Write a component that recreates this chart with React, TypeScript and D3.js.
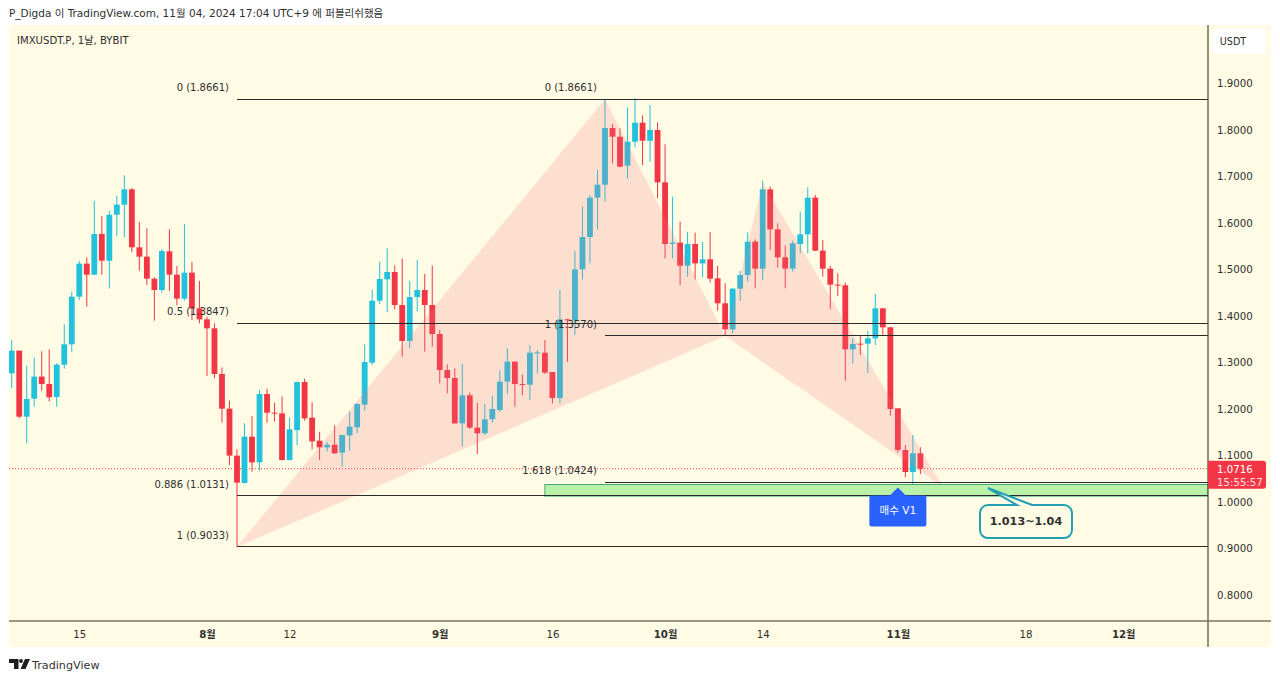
import { useEffect, useRef } from "react";
import * as d3 from "d3";

// daily candles, 2024-07-06 .. 2024-11-04
const firstDay = "2024-07-06";
const opens = [
  1.2767, 1.3255, 1.1835, 1.2222, 1.2696, 1.2538, 1.2258, 1.2954, 1.3391, 1.4416,
  1.5126, 1.4889, 1.5764, 1.519, 1.6179, 1.6394, 1.6724, 1.5477, 1.5276, 1.4803,
  1.4559, 1.5391, 1.4889, 1.4373, 1.4932, 1.4165, 1.3928, 1.3735, 1.2753, 1.2007,
  1.0997, 1.0408, 1.1405, 1.0853, 1.2322, 1.1921, 1.1906, 1.0903, 1.1548, 1.258,
  1.1813, 1.1318, 1.1175, 1.1233, 1.1061, 1.1433, 1.1606, 1.2093, 1.2996, 1.4329,
  1.4788, 1.4946, 1.4236, 1.3462, 1.4408, 1.4559, 1.4236, 1.3613, 1.2838, 1.2666,
  1.1691, 1.2294, 1.1599, 1.1477, 1.1778, 1.1978, 1.2588, 1.3018, 1.2537, 1.2523,
  1.3211, 1.3211, 1.2795, 1.2236, 1.3928, 1.3899, 1.5003, 1.5699, 1.6545, 1.6824,
  1.8043, 1.7856, 1.7233, 1.7749, 1.8157, 1.777, 1.8, 1.6874, 1.5548, 1.5577,
  1.5082, 1.5548, 1.5132, 1.5219, 1.481, 1.4273, 1.3713, 1.4588, 1.4882, 1.5599,
  1.5018, 1.6724, 1.5864, 1.5262, 1.5018, 1.5548, 1.5756, 1.6545, 1.5405, 1.5018,
  1.4674, 1.466, 1.3283, 1.3405, 1.3405, 1.352, 1.4165, 1.3756, 1.2014, 1.1118,
  1.0645, 1.1047,
];
const highs = [
  1.3484, 1.326, 1.2932, 1.3111, 1.324, 1.3283, 1.2983, 1.3821, 1.4523, 1.5183,
  1.5255, 1.648, 1.6151, 1.6265, 1.6588, 1.7025, 1.6753, 1.6022, 1.5885, 1.4832,
  1.5434, 1.5864, 1.5075, 1.5979, 1.5161, 1.4753, 1.3986, 1.3842, 1.2896, 1.2179,
  1.1133, 1.1691, 1.1849, 1.2408, 1.2437, 1.2136, 1.2265, 1.182, 1.2587, 1.2652,
  1.2143, 1.1512, 1.1297, 1.1648, 1.1448, 1.1942, 1.2122, 1.339, 1.4559, 1.5168,
  1.5456, 1.5089, 1.524, 1.476, 1.5204, 1.4903, 1.5082, 1.3699, 1.296, 1.2874,
  1.2967, 1.2351, 1.2136, 1.2108, 1.228, 1.2838, 1.3304, 1.3025, 1.2745, 1.3376,
  1.3269, 1.3484, 1.2795, 1.4559, 1.3942, 1.5398, 1.6351, 1.6602, 1.714, 1.8661,
  1.8129, 1.8036, 1.8487, 1.8681, 1.8315, 1.8537, 1.8165, 1.7692, 1.6566, 1.6028,
  1.5813, 1.5792, 1.5599, 1.5807, 1.5075, 1.4703, 1.4595, 1.4968, 1.5799, 1.5649,
  1.6911, 1.6782, 1.5993, 1.552, 1.562, 1.6244, 1.6767, 1.6602, 1.5635, 1.5075,
  1.4918, 1.4717, 1.352, 1.357, 1.3678, 1.4473, 1.4172, 1.377, 1.2014, 1.1226,
  1.1441, 1.1176,
];
const lows = [
  1.2452, 1.1799, 1.1262, 1.205, 1.2394, 1.2165, 1.205, 1.2868, 1.3233, 1.4344,
  1.4201, 1.488, 1.4889, 1.4595, 1.5721, 1.5692, 1.5369, 1.4975, 1.4667, 1.39,
  1.4502, 1.4538, 1.423, 1.433, 1.3914, 1.3842, 1.271, 1.266, 1.1706, 1.0796,
  0.9033, 1.04, 1.0652, 1.0673, 1.1706, 1.1727, 1.0895, 1.0895, 1.1225, 1.1749,
  1.1132, 1.0903, 1.1082, 1.1032, 1.076, 1.1104, 1.1476, 1.1964, 1.2946, 1.4258,
  1.4086, 1.4143, 1.3125, 1.3304, 1.4093, 1.3233, 1.334, 1.2552, 1.2337, 1.1684,
  1.119, 1.157, 1.1032, 1.1441, 1.1706, 1.1942, 1.2322, 1.205, 1.2301, 1.2193,
  1.2767, 1.2753, 1.2122, 1.2122, 1.3018, 1.3591, 1.4788, 1.5132, 1.5864, 1.6459,
  1.7283, 1.7197, 1.696, 1.7627, 1.7247, 1.7319, 1.653, 1.524, 1.524, 1.4666,
  1.4846, 1.4788, 1.4832, 1.4717, 1.4115, 1.3592, 1.3627, 1.4323, 1.4739, 1.4595,
  1.4774, 1.542, 1.504, 1.4595, 1.4954, 1.5348, 1.5348, 1.5398, 1.4846, 1.4144,
  1.443, 1.261, 1.2982, 1.3162, 1.2767, 1.3377, 1.3592, 1.1857, 1.1061, 1.0531,
  1.034, 1.0602,
];
const closes = [
  1.3255, 1.1835, 1.2215, 1.2696, 1.2538, 1.2251, 1.2954, 1.3391, 1.4416, 1.5126,
  1.4889, 1.5764, 1.519, 1.6179, 1.6394, 1.6724, 1.5477, 1.5276, 1.4803, 1.4559,
  1.5398, 1.4889, 1.4373, 1.4932, 1.4165, 1.3928, 1.3735, 1.2753, 1.2007, 1.0997,
  1.0416, 1.1405, 1.0853, 1.2322, 1.1921, 1.1905, 1.0903, 1.1562, 1.258, 1.1799,
  1.1304, 1.1175, 1.1233, 1.1046, 1.1441, 1.162, 1.2107, 1.301, 1.4329, 1.4795,
  1.4946, 1.4236, 1.3462, 1.4408, 1.4559, 1.4236, 1.3613, 1.2838, 1.2666, 1.1691,
  1.2294, 1.1599, 1.1477, 1.1778, 1.2, 1.2588, 1.3018, 1.2537, 1.253, 1.3211,
  1.3218, 1.2781, 1.2236, 1.3928, 1.3921, 1.5003, 1.5699, 1.6545, 1.6824, 1.8043,
  1.7856, 1.7211, 1.7749, 1.8157, 1.777, 1.8, 1.6874, 1.5548, 1.5577, 1.5082,
  1.5548, 1.5132, 1.5219, 1.4803, 1.4273, 1.3713, 1.4588, 1.4882, 1.5599, 1.5018,
  1.6724, 1.5864, 1.5262, 1.5018, 1.5563, 1.5756, 1.6545, 1.5405, 1.5018, 1.4674,
  1.4659, 1.3283, 1.3398, 1.3398, 1.352, 1.4165, 1.3756, 1.2, 1.1118, 1.0645,
  1.1047, 1.0716,
];

const priceTicks = [1.9, 1.8, 1.7, 1.6, 1.5, 1.4, 1.3, 1.2, 1.1, 1.0, 0.9, 0.8];
const timeTicks = ["2024-07-15", "2024-08-01", "2024-08-12", "2024-09-01", "2024-09-16", "2024-10-01", "2024-10-14", "2024-11-01", "2024-11-18", "2024-12-01"];
const timeLabels = ["15", "8월", "12", "9월", "16", "10월", "14", "11월", "18", "12월"];

// bat pattern turning points [date, price]
const patternXAB: [string, number][] = [["2024-08-05", 0.9033], ["2024-09-23", 1.8661], ["2024-10-09", 1.357]];
const patternBCD: [string, number][] = [["2024-10-09", 1.357], ["2024-10-14", 1.686], ["2024-11-07", 1.0323]];

// fib retracement levels
const fibOuterStart = "2024-08-05";
const fibOuterRatios = ["0", "0.5", "0.886", "1"];
const fibOuterPrices = [1.8661, 1.3847, 1.0131, 0.9033];
const fibInnerStart = "2024-09-23";
const fibInnerRatios = ["0", "1", "1.618"];
const fibInnerPrices = [1.8661, 1.357, 1.0424];

const lastPrice = 1.0716;
const countdown = "15:55:57";
const zoneStart = "2024-09-15";
const zonePrices = [1.04, 1.013];
const buyDate = "2024-11-01";
const noteDate = "2024-11-13";

const panelBg = "#fffbe4";
const upColor = "#22c1dc";
const downColor = "#f23645";
const textColor = "#2f2f2f";
const fontName = "'DejaVu Sans', 'Noto Sans CJK KR', sans-serif";
const day = (s: string) => new Date(s + "T00:00:00Z");

export default function App() {
  const svgRef = useRef<SVGSVGElement>(null);

  useEffect(() => {
    const svg = d3.select(svgRef.current);
    svg.selectAll("*").remove();

    const plotRight = 1208;
    const plotBottom = 621;
    const first = day(firstDay);
    const x = d3
      .scaleUtc()
      .domain([first, d3.utcDay.offset(first, 121)])
      .range([11.7, 920.4]);
    const y = d3.scaleLinear().domain([1.9, 0.8]).range([83.5, 595]);

    svg.attr("font-family", fontName);

    // panel
    svg.append("rect").attr("x", 9).attr("y", 25).attr("width", 1262).attr("height", 622).attr("fill", panelBg);

    svg.append("clipPath").attr("id", "plot").append("rect").attr("x", 9).attr("y", 25).attr("width", plotRight - 9).attr("height", plotBottom - 25);
    const plot = svg.append("g").attr("clip-path", "url(#plot)");

    // last price dotted line
    plot
      .append("line")
      .attr("x1", 9)
      .attr("x2", plotRight)
      .attr("y1", y(lastPrice))
      .attr("y2", y(lastPrice))
      .attr("stroke", "#f23645")
      .attr("stroke-width", 1)
      .attr("stroke-dasharray", "1 2");

    // candles
    const bodyWidth = 5.8;
    const candles = d3.range(opens.length);
    const dateOf = (i: number) => d3.utcDay.offset(first, i);
    const colorOf = (i: number) => (closes[i] >= opens[i] ? upColor : downColor);
    plot
      .selectAll(".wick")
      .data(candles)
      .enter()
      .append("line")
      .attr("x1", (i) => x(dateOf(i)))
      .attr("x2", (i) => x(dateOf(i)))
      .attr("y1", (i) => y(highs[i]))
      .attr("y2", (i) => y(lows[i]))
      .attr("stroke", colorOf)
      .attr("stroke-width", 1);
    plot
      .selectAll(".body")
      .data(candles)
      .enter()
      .append("rect")
      .attr("x", (i) => x(dateOf(i)) - bodyWidth / 2)
      .attr("width", bodyWidth)
      .attr("y", (i) => y(Math.max(opens[i], closes[i])))
      .attr("height", (i) => Math.max(1, Math.abs(y(opens[i]) - y(closes[i]))))
      .attr("fill", colorOf);

    // harmonic pattern
    const patternLine = d3
      .line<[string, number]>()
      .x((d) => x(day(d[0])))
      .y((d) => y(d[1]));
    [patternXAB, patternBCD].forEach((pts) => {
      plot
        .append("path")
        .attr("d", patternLine(pts) + "Z")
        .attr("fill", "#f57384")
        .attr("fill-opacity", 0.2);
    });

    // demand zone sits under the fib lines
    plot
      .append("rect")
      .attr("x", x(day(zoneStart)))
      .attr("width", plotRight - x(day(zoneStart)))
      .attr("y", Math.ceil(y(zonePrices[0])) + 0.5)
      .attr("height", y(zonePrices[1]) - y(zonePrices[0]) - 1)
      .attr("fill", "#b9f1a9")
      .attr("stroke", "#3fa876")
      .attr("stroke-width", 1);

    // fib levels
    const fibs = [
      { start: fibOuterStart, ratios: fibOuterRatios, prices: fibOuterPrices },
      { start: fibInnerStart, ratios: fibInnerRatios, prices: fibInnerPrices },
    ];
    fibs.forEach((f) => {
      const startX = x(day(f.start));
      f.prices.forEach((p, i) => {
        plot
          .append("line")
          .attr("x1", startX)
          .attr("x2", plotRight)
          .attr("y1", Math.floor(y(p)) + 0.5)
          .attr("y2", Math.floor(y(p)) + 0.5)
          .attr("stroke", "#2a2a2a")
          .attr("stroke-width", 1);
        plot
          .append("text")
          .attr("x", startX - 8)
          .attr("y", y(p) - 8)
          .attr("text-anchor", "end")
          .attr("font-size", 10)
          .attr("fill", textColor)
          .text(`${f.ratios[i]} (${p.toFixed(4)})`);
      });
    });

    // buy marker
    const buyX = x(day(buyDate));
    const buyTop = y(zonePrices[0]) + 4;
    plot
      .append("path")
      .attr("d", `M${buyX},${buyTop} l8,8 h18.5 a2,2 0 0 1 2,2 v27 a2,2 0 0 1 -2,2 h-53 a2,2 0 0 1 -2,-2 v-27 a2,2 0 0 1 2,-2 h18.5 Z`)
      .attr("fill", "#2962ff");
    plot
      .append("text")
      .attr("x", buyX)
      .attr("y", buyTop + 27)
      .attr("text-anchor", "middle")
      .attr("font-size", 10.5)
      .attr("fill", "#fff")
      .text("매수 V1");

    // callout
    const tipX = x(day(noteDate));
    const tipY = y(1.03);
    plot
      .append("path")
      .attr(
        "d",
        `M${tipX},${tipY} L${tipX + 44},${tipY + 17} H${tipX + 76} a8,8 0 0 1 8,8 V${tipY + 42} a8,8 0 0 1 -8,8 H${tipX} a8,8 0 0 1 -8,-8 V${tipY + 25} a8,8 0 0 1 8,-8 H${tipX + 29} Z`
      )
      .attr("fill", panelBg)
      .attr("stroke", "#22a0b2")
      .attr("stroke-width", 2);
    plot
      .append("text")
      .attr("x", tipX + 38)
      .attr("y", tipY + 37)
      .attr("text-anchor", "middle")
      .attr("font-size", 11.2)
      .attr("font-weight", 600)
      .attr("fill", textColor)
      .text("1.013~1.04");

    // price axis
    const yAxis = svg
      .append("g")
      .attr("transform", `translate(${plotRight},0)`)
      .call(
        d3
          .axisRight(y)
          .tickValues(priceTicks)
          .tickSize(0)
          .tickPadding(9)
          .tickFormat((d) => (d as number).toFixed(4))
      );
    yAxis.select(".domain").attr("d", "M0,25V647").attr("stroke", "#4a4a3a").attr("stroke-width", 1.2);
    yAxis.selectAll("text").attr("font-family", fontName).attr("font-size", 10.2).attr("fill", textColor);

    // time axis
    const xAxis = svg
      .append("g")
      .attr("transform", `translate(0,${plotBottom})`)
      .call(
        d3
          .axisBottom(x)
          .tickValues(timeTicks.map(day))
          .tickSize(0)
          .tickPadding(10)
          .tickFormat((_, i) => timeLabels[i])
      );
    xAxis.select(".domain").attr("d", `M9,0H1271`).attr("stroke", "#77775f").attr("stroke-width", 1.4);
    xAxis
      .selectAll("text")
      .attr("font-family", fontName)
      .attr("font-size", 10.2)
      .attr("fill", textColor)
      .attr("font-weight", (_, i) => (timeLabels[i].endsWith("월") ? 700 : 400));

    // last price tag
    const tagTop = y(lastPrice) - 8;
    svg
      .append("path")
      .attr("d", `M${plotRight},${tagTop} h55 a3,3 0 0 1 3,3 v22 a3,3 0 0 1 -3,3 h-55 Z`)
      .attr("fill", downColor);
    svg.append("text").attr("x", plotRight + 9).attr("y", tagTop + 12).attr("font-size", 10.2).attr("fill", "#fff").text(lastPrice.toFixed(4));
    svg.append("text").attr("x", plotRight + 9).attr("y", tagTop + 25).attr("font-size", 10.2).attr("fill", "#ffe0e3").text(countdown);

    // currency button
    svg.append("rect").attr("x", 1212).attr("y", 29).attr("width", 54).attr("height", 24).attr("rx", 4).attr("fill", "#fff");
    svg.append("text").attr("x", 1233).attr("y", 45).attr("text-anchor", "middle").attr("font-size", 9.6).attr("fill", textColor).text("USDT");

    // titles
    svg.append("text").attr("x", 9).attr("y", 17).attr("font-size", 10.5).attr("fill", textColor).text("P_Digda 이 TradingView.com, 11월 04, 2024 17:04 UTC+9 에 퍼블리쉬했음");
    svg.append("text").attr("x", 17).attr("y", 44).attr("font-size", 10.1).attr("fill", textColor).text("IMXUSDT.P, 1날, BYBIT");

    // footer logo
    const logo = svg.append("g").attr("fill", "#1f1f1f");
    logo.append("path").attr("d", "M9,659H18.5V669H14V663H9Z");
    logo.append("circle").attr("cx", 21).attr("cy", 661).attr("r", 1.9);
    logo.append("path").attr("d", "M25,659H30L25.5,669H20.5Z");
    svg.append("text").attr("x", 32).attr("y", 669).attr("font-size", 11.2).attr("fill", "#333").text("TradingView");
  }, []);

  return <svg ref={svgRef} width={1280} height={681} style={{ position: "absolute", left: 0, top: 0, background: "#fff" }} />;
}
